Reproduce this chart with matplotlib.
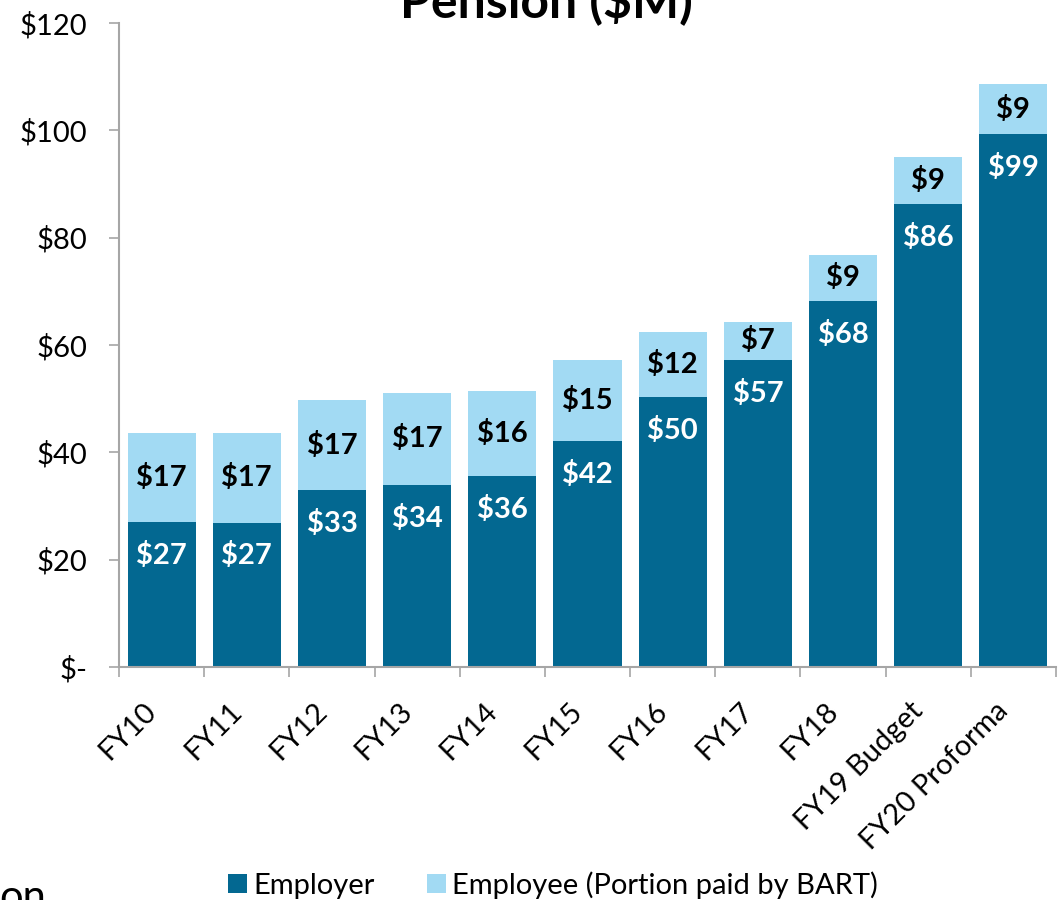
import matplotlib
matplotlib.use("Agg")
import matplotlib.pyplot as plt
import numpy as np
from matplotlib.patches import Patch

categories = ["FY10", "FY11", "FY12", "FY13", "FY14", "FY15", "FY16", "FY17",
              "FY18", "FY19 Budget", "FY20 Proforma"]
employer = [27.0, 26.9, 33.0, 33.9, 35.6, 42.1, 50.3, 57.2, 68.2, 86.3, 99.3]
employee = [16.6, 16.7, 16.7, 17.2, 15.8, 15.1, 12.1, 7.1, 8.6, 8.7, 9.3]
yticks = [0, 20, 40, 60, 80, 100, 120]
ytick_labels = ["$-", "$20", "$40", "$60", "$80", "$100", "$120"]

DARK = "#036891"
LIGHT = "#A2DAF3"
FONT = "Lato"
FS = 21

plt.rcParams["font.family"] = [FONT, "DejaVu Sans"]

fig = plt.figure(figsize=(10.6, 9), dpi=100)
ax = fig.add_axes([119/1060, 1 - 667/900, (1056 - 119)/1060, (667 - 23)/900])

x = np.arange(len(categories))
ax.bar(x, employer, width=0.8, color=DARK, label="Employer")
ax.bar(x, employee, width=0.8, bottom=employer, color=LIGHT,
       label="Employee (Portion paid by BART)")

for xi, e, p in zip(x, employer, employee):
    ax.annotate(f"${e:.0f}", (xi, e), xytext=(0, -24), textcoords="offset points",
                ha="center", va="center", color="white", fontsize=FS, fontweight="bold")
    ax.text(xi, e + p / 2, f"${p:.0f}", ha="center", va="center", color="black",
            fontsize=FS, fontweight="bold")

ax.set_xlim(-0.5, len(categories) - 0.5)
ax.set_ylim(0, 120)
ax.set_yticks(yticks)
ax.set_yticklabels(ytick_labels)

ax.set_xticks(np.arange(len(categories) + 1) - 0.5)
ax.set_xticklabels([])
ax.set_xticks(x, minor=True)
ax.set_xticklabels(categories, minor=True, rotation=45, ha="right", va="top")
ax.tick_params(axis="x", which="minor", length=0, pad=22, labelsize=FS)
ax.tick_params(axis="x", which="major", length=7, width=1.2, color="#A6A6A6", direction="out")
ax.tick_params(axis="y", length=7, width=1.2, color="#A6A6A6", direction="out",
               labelsize=FS, pad=16)

for s in ["top", "right"]:
    ax.spines[s].set_visible(False)
for s in ["left", "bottom"]:
    ax.spines[s].set_color("#A6A6A6")
    ax.spines[s].set_linewidth(1.5)

fig.text(546/1060, 1 - 17/900, "Pension ($M)", ha="center", va="baseline",
         fontsize=36, fontweight="bold")

handles = [Patch(facecolor=DARK), Patch(facecolor=LIGHT)]
fig.legend(handles, ["Employer", "Employee (Portion paid by BART)"],
           loc="center", bbox_to_anchor=(553/1060, 1 - 885/900), ncol=2,
           frameon=False, fontsize=FS, handlelength=0.65, handleheight=0.65,
           handletextpad=0.2, columnspacing=1.8)

fig.text(-1/1060, 1 - 910/900, "on", ha="left", va="baseline", fontsize=30)

fig.savefig("out.png", dpi=100)
